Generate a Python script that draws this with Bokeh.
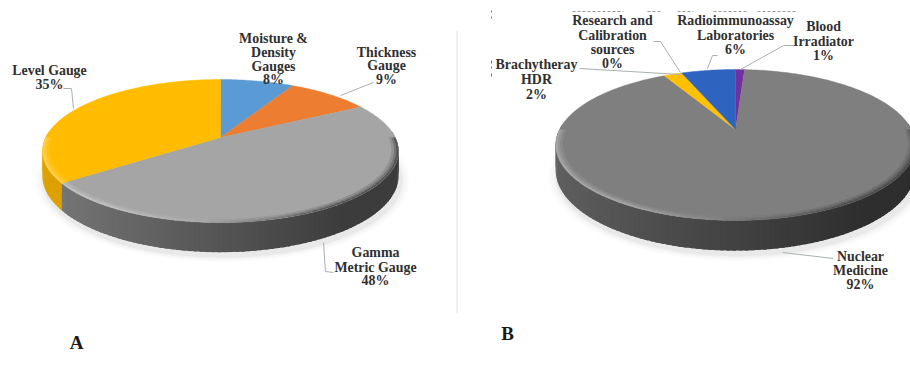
import numpy as np
from bokeh.core.properties import value
from bokeh.embed import file_html
from bokeh.models import Range1d
from bokeh.plotting import figure
from bokeh.resources import INLINE

# Shares of radiation sources, panel A (industrial gauges), clockwise from 12 o'clock
gauge_names = ["Moisture & Density Gauges", "Thickness Gauge", "Gamma Metric Gauge", "Level Gauge"]
gauge_pct = [8, 9, 48, 35]
gauge_colors = ["#5b9bd5", "#ed7d31", "#a5a5a5", "#ffbc00"]
gauge_sides = ["#3f76a8", "#b85f22", None, "#dca000"]

# Panel B (medical and research uses), clockwise from 12 o'clock
medical_names = ["Blood Irradiator", "Nuclear Medicine", "Brachytheray HDR",
                 "Research and Calibration sources", "Radioimmunoassay Laboratories"]
medical_pct = [1, 92, 2, 0, 6]
medical_colors = ["#7030a0", "#7f7f7f", "#ffc000", "#ffe699", "#2f63c0"]
medical_sides = ["#4a1f6b", None, "#c99a00", "#c9b060", "#20448a"]

SERIF = value("Liberation Serif")
INK = "#303030"
LEADER = "#a9b0b0"

p = figure(width=910, height=371, output_backend="svg", toolbar_location=None,
           x_range=Range1d(0, 910), y_range=Range1d(371, 0), min_border=0,
           background_fill_color="white", border_fill_color="white", outline_line_color=None)
p.axis.visible = False
p.grid.visible = False


def hex_rgb(c):
    return np.array([int(c[i:i + 2], 16) for i in (1, 3, 5)], dtype=float)


def rgb_hex(c):
    return "#" + "".join(f"{int(np.clip(round(v), 0, 255)):02x}" for v in c)


class Disc:
    """Tilted pie: a unit circle pushed through a perspective projection."""

    def __init__(self, cx, cy, rx, a, k, depth):
        self.cx, self.cy, self.rx, self.a, self.k, self.depth = cx, cy, rx, a, k, depth

    def rim(self, theta, scale=1.0):
        u, v = np.sin(theta) * scale, np.cos(theta) * scale
        w = 1 + self.k * v
        return self.cx + self.rx * u / w, self.cy - self.a * v / w

    def drop(self, theta):
        return self.depth / (1 + self.k * np.cos(theta))


def draw_pie(d, pct, colors, sides, shade):
    total = sum(pct)
    edges = np.radians(np.cumsum([0] + list(pct)) / total * 360.0)

    def slice_at(theta):
        return min(np.searchsorted(edges, theta, side="right") - 1, len(pct) - 1)

    # soft contact shadow below the base, leaning right
    t = np.linspace(0, 2 * np.pi, 180)
    for grow, alpha in zip((1.05, 1.035, 1.02, 1.01), (0.02, 0.03, 0.04, 0.05)):
        x, y = d.rim(t, grow)
        p.patch(x + 2, y + d.drop(t) * 1.05 + 3, fill_color="#666666", fill_alpha=alpha, line_color=None)

    # side wall: overlapping quads along the near half of the rim, shaded left to right
    t = np.linspace(np.pi * 0.47, np.pi * 1.53, 120)[::-1]
    for t0, t1 in zip(t[:-1], t[1:]):
        mid = 0.5 * (t0 + t1)
        idx = slice_at(mid)
        tn = max(t1 - (t[0] - t[1]) * 0.6, t[-1])
        x0, y0 = d.rim(t0)
        x1, y1 = d.rim(tn)
        if sides[idx] is None:
            f = (np.sin(mid) + 1) / 2
            g = shade[0] + (shade[1] - shade[0]) * min(f * 1.25, 1.0)
            col = rgb_hex([g, g, g])
        else:
            col = sides[idx]
        p.patch([x0, x1, x1, x0], [y0, y1, y1 + d.drop(tn), y0 + d.drop(t0)], fill_color=col, line_color=None)

    # top face
    for i, col in enumerate(colors):
        if pct[i] == 0:
            continue
        t = np.linspace(edges[i], edges[i + 1], max(int(pct[i] * 3), 6))
        x, y = d.rim(t)
        p.patch(np.r_[d.cx, x], np.r_[d.cy, y], fill_color=col, line_color=col, line_width=0.4)

    # bevel: rings inside the near rim, light towards the left and dark towards the right
    rings = [(1.0, 0.988, 0.75), (0.988, 0.976, 0.45), (0.976, 0.962, 0.2)]
    t = np.linspace(np.pi * 0.5, np.pi * 1.5, 90)
    for s0, s1, strength in rings[::-1]:
        for t0, t1 in zip(t[:-1], t[1:]):
            mid = 0.5 * (t0 + t1)
            face = hex_rgb(colors[slice_at(mid)])
            lean = -np.sin(mid)  # -1 at right, +1 at left
            if lean < 0.05:
                target, mix = np.array([60.0, 60.0, 60.0]), strength * min(-lean * 1.6 + 0.15, 1.0)
            else:
                target, mix = np.array([255.0, 255.0, 255.0]), strength * 0.4 * min(lean * 2.0, 1.0)
            col = rgb_hex(face + (target - face) * mix)
            tb = min(t1 + 0.012, t[-1])
            xa, ya = d.rim(np.array([t0, tb]), s0)
            xb, yb = d.rim(np.array([tb, t0]), s1)
            p.patch(np.r_[xa, xb], np.r_[ya, yb], fill_color=col, line_color=None)


draw_pie(Disc(220, 137, 174.8, 69, 0.189, 24), gauge_pct, gauge_colors, gauge_sides, (125, 60))
draw_pie(Disc(735, 129, 176, 72.3, 0.205, 24), medical_pct, medical_colors, medical_sides, (98, 46))

# leader lines from slices to their labels
leaders = [
    ([63, 71, 73], [88, 88, 108]),
    ([373, 340], [82, 95]),
    ([323, 325, 333], [242, 271, 272]),
    ([579, 680], [68, 74]),
    ([653, 660, 680], [41, 41, 72]),
    ([707, 712, 717], [68, 55, 55]),
    ([793, 783, 740], [45, 45, 69]),
    ([782, 833], [252, 258]),
]
for xs, ys in leaders:
    p.line(xs, ys, line_color=LEADER, line_width=1)

# data labels, one row per line of text
labels = [
    (273, 38, "Moisture &"), (273, 52, "Density"), (273, 66, "Gauges"), (273, 79, f"{gauge_pct[0]}%"),
    (386, 52, "Thickness"), (386, 65, "Gauge"), (386, 79, f"{gauge_pct[1]}%"),
    (375, 252, "Gamma"), (375, 267, "Metric Gauge"), (375, 280, f"{gauge_pct[2]}%"),
    (49, 70, "Level Gauge"), (49, 84, f"{gauge_pct[3]}%"),
    (612, 20, "Research and"), (612, 35, "Calibration"), (612, 49, "sources"), (612, 63, f"{medical_pct[3]}%"),
    (735, 20, "Radioimmunoassay"), (735, 35, "Laboratories"), (735, 49, f"{medical_pct[4]}%"),
    (823, 26, "Blood"), (823, 41, "Irradiator"), (823, 55, f"{medical_pct[0]}%"),
    (536, 64, "Brachytheray"), (536, 79, "HDR"), (536, 94, f"{medical_pct[2]}%"),
    (860, 256, "Nuclear"), (860, 270, "Medicine"), (860, 284, f"{medical_pct[1]}%"),
]
p.text([l[0] for l in labels], [l[1] for l in labels], text=[l[2] for l in labels],
       text_font=SERIF, text_font_style="bold", text_font_size="13.9px", text_color=INK,
       text_align="center", text_baseline="middle")

# panel letters
p.text([76, 507], [342, 333], text=["A", "B"], text_font=SERIF, text_font_style="bold",
       text_font_size="19px", text_color="#1a1a1a", text_align="center", text_baseline="middle")

# thin divider beside panel A
p.line([456.5, 456.5], [30, 313], line_color="#f0f0f0", line_width=2)

# specks along the top edge of panel B
for x0, x1 in [(572, 623), (647, 660), (677, 693), (713, 747), (757, 797)]:
    p.line([x0, x1], [11, 11], line_color="#9a9a9a", line_width=1, line_dash="3 2")
for y0, y1 in [(10, 12), (16, 18), (60, 63), (66, 68), (73, 76)]:
    p.line([491, 491], [y0, y1], line_color="#777777", line_width=1)

open("out.html", "w").write(file_html(p, INLINE))
